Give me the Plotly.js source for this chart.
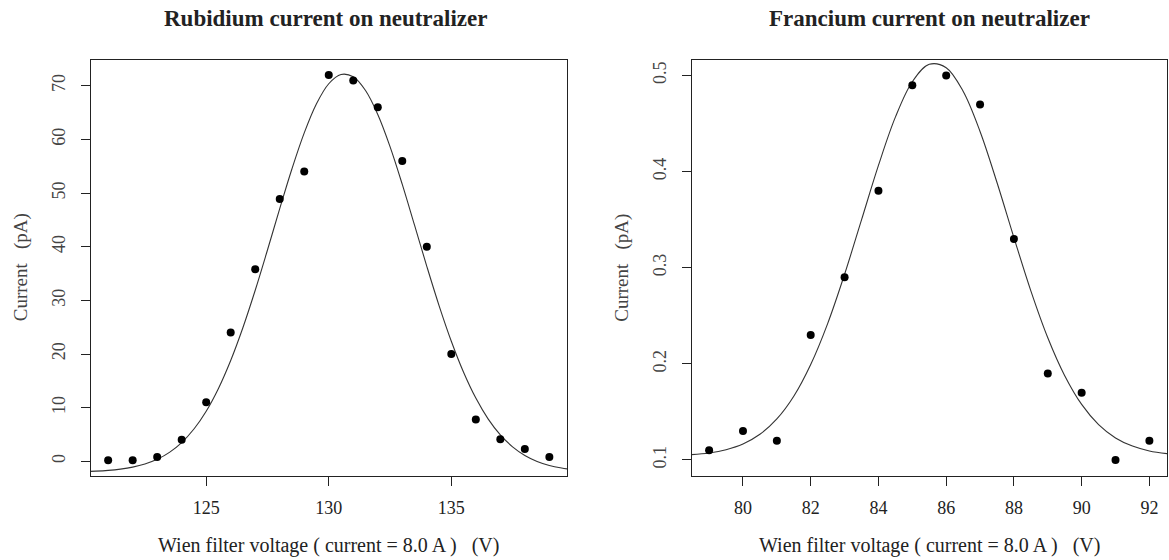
<!DOCTYPE html>
<html>
<head>
<meta charset="utf-8">
<script src="https://cdn.plot.ly/plotly-3.0.1.min.js"></script>
<style>
  html, body { margin: 0; padding: 0; background: #fff; }
  #chart { width: 1169px; height: 560px; }
</style>
</head>
<body>
<div id="chart"></div>
<script>
// ---- Data ----
const rbVoltage = [121, 122, 123, 124, 125, 126, 127, 128, 129, 130, 131, 132, 133, 134, 135, 136, 137, 138, 139];
const rbCurrent = [0.2, 0.2, 0.8, 4.0, 11.0, 24.0, 35.8, 48.9, 54.0, 72.0, 71.0, 66.0, 56.0, 40.0, 20.0, 7.8, 4.1, 2.3, 0.8];

const rbFitVoltage = [120.28, 120.5, 121, 121.5, 122, 122.5, 123, 123.5, 124, 124.5, 125, 125.5, 126, 126.5, 127, 127.5, 128, 128.5, 129, 129.5, 130, 130.5, 131, 131.5, 132, 132.5, 133, 133.5, 134, 134.5, 135, 135.5, 136, 136.5, 137, 137.5, 138, 138.5, 139, 139.5, 139.72];
const rbFitCurrent = [-1.87, -1.83, -1.69, -1.46, -1.09, -0.51, 0.37, 1.67, 3.50, 6.02, 9.34, 13.59, 18.80, 24.95, 31.89, 39.39, 47.09, 54.53, 61.22, 66.65, 70.38, 72.10, 71.67, 69.11, 64.65, 58.67, 51.62, 44.01, 36.35, 29.03, 22.38, 16.60, 11.78, 7.91, 4.92, 2.70, 1.09, -0.02, -0.77, -1.26, -1.41];

const frVoltage = [79, 80, 81, 82, 83, 84, 85, 86, 87, 88, 89, 90, 91, 92];
const frCurrent = [0.11, 0.13, 0.12, 0.23, 0.29, 0.38, 0.49, 0.50, 0.47, 0.33, 0.19, 0.17, 0.10, 0.12];

const frFitVoltage = [78.48, 79, 79.5, 80, 80.5, 81, 81.5, 82, 82.5, 83, 83.5, 84, 84.5, 85, 85.5, 86, 86.5, 87, 87.5, 88, 88.5, 89, 89.5, 90, 90.5, 91, 91.5, 92, 92.52];
const frFitCurrent = [0.1055, 0.1073, 0.1107, 0.1166, 0.1267, 0.1427, 0.1663, 0.1993, 0.2419, 0.2932, 0.3498, 0.4065, 0.4567, 0.4936, 0.5117, 0.5082, 0.4836, 0.4418, 0.3887, 0.3314, 0.2760, 0.2272, 0.1877, 0.1578, 0.1368, 0.1229, 0.1144, 0.1094, 0.1066];

const rbXTicks = [125, 130, 135];
const rbYTicks = [0, 10, 20, 30, 40, 50, 60, 70];
const frXTicks = [80, 82, 84, 86, 88, 90, 92];
const frYTicks = [0.1, 0.2, 0.3, 0.4, 0.5];
const frYTickText = ['0.1', '0.2', '0.3', '0.4', '0.5'];

const titleLeft = 'Rubidium current on neutralizer';
const titleRight = 'Francium current on neutralizer';
const xTitle = 'Wien filter voltage ( current = 8.0 A )\u00a0\u00a0\u00a0(V)';
const yTitle = 'Current\u00a0\u00a0\u00a0(pA)';

// ---- Layout geometry (pixels) ----
const W = 1169, H = 560;
const FONT = 'Liberation Serif, Times New Roman, serif';
const px = v => v / W;
const py = v => 1 - v / H;
const L = {x0: 90.5, x1: 567};
const R = {x0: 691.5, x1: 1167};
const Y = {top: 59.5, bot: 476};

const dark = '#222';

function xAxis(dom, range, ticks) {
  return {
    domain: [px(dom.x0), px(dom.x1)], range: range, anchor: null,
    showline: true, mirror: true, linecolor: dark, linewidth: 1,
    showgrid: false, zeroline: false,
    ticks: 'outside', ticklen: 9, tickwidth: 1, tickcolor: dark,
    tickmode: 'array', tickvals: ticks,
    tickfont: {family: FONT, size: 18, color: dark},
    ticklabelstandoff: 6
  };
}
function yAxis(range, ticks, text) {
  const a = {
    domain: [py(Y.bot), py(Y.top)], range: range,
    showline: true, mirror: true, linecolor: dark, linewidth: 1,
    showgrid: false, zeroline: false,
    ticks: 'outside', ticklen: 9, tickwidth: 1, tickcolor: dark,
    tickmode: 'array', tickvals: ticks,
    tickangle: -90,
    tickfont: {family: FONT, size: 18, color: '#444'},
    ticklabelstandoff: 8
  };
  if (text) a.ticktext = text;
  return a;
}

const traces = [
  {x: rbFitVoltage, y: rbFitCurrent, xaxis: 'x', yaxis: 'y', type: 'scatter', mode: 'lines',
   line: {color: '#333', width: 1.1, shape: 'spline', smoothing: 1}, hoverinfo: 'skip'},
  {x: rbVoltage, y: rbCurrent, xaxis: 'x', yaxis: 'y', type: 'scatter', mode: 'markers',
   marker: {color: '#000', size: 8}, cliponaxis: false},
  {x: frFitVoltage, y: frFitCurrent, xaxis: 'x2', yaxis: 'y2', type: 'scatter', mode: 'lines',
   line: {color: '#333', width: 1.1, shape: 'spline', smoothing: 1}, hoverinfo: 'skip'},
  {x: frVoltage, y: frCurrent, xaxis: 'x2', yaxis: 'y2', type: 'scatter', mode: 'markers',
   marker: {color: '#000', size: 8}, cliponaxis: false}
];

const xA1 = xAxis(L, [120.28, 139.72], rbXTicks); xA1.anchor = 'y';
const xA2 = xAxis(R, [78.48, 92.52], frXTicks); xA2.anchor = 'y2';
const yA1 = yAxis([-2.74, 74.9], rbYTicks); yA1.anchor = 'x';
const yA2 = yAxis([0.0833, 0.5167], frYTicks, frYTickText); yA2.anchor = 'x2';

function ann(text, x, y, size, opts) {
  return Object.assign({
    text: text, xref: 'paper', yref: 'paper', x: x, y: y,
    xanchor: 'center', yanchor: 'middle', showarrow: false,
    font: {family: FONT, size: size, color: dark}
  }, opts || {});
}

const layout = {
  width: W, height: H,
  margin: {l: 0, r: 0, t: 0, b: 0, pad: 0},
  paper_bgcolor: '#fff', plot_bgcolor: '#fff',
  showlegend: false,
  xaxis: xA1, yaxis: yA1, xaxis2: xA2, yaxis2: yA2,
  annotations: [
    ann('<b>' + titleLeft + '</b>', px((L.x0 + L.x1) / 2 - 3), py(18.5), 23),
    ann('<b>' + titleRight + '</b>', px((R.x0 + R.x1) / 2), py(18.5), 23),
    ann(xTitle, px((L.x0 + L.x1) / 2), py(545), 20),
    ann(xTitle, px((R.x0 + R.x1) / 2), py(545), 20),
    ann(yTitle, px(20.5), py((Y.top + Y.bot) / 2), 19, {textangle: -90, font: {family: FONT, size: 19, color: '#444'}}),
    ann(yTitle, px(622), py((Y.top + Y.bot) / 2), 19, {textangle: -90, font: {family: FONT, size: 19, color: '#444'}})
  ]
};

Plotly.newPlot('chart', traces, layout, {displayModeBar: false, staticPlot: true});
</script>
</body>
</html>
